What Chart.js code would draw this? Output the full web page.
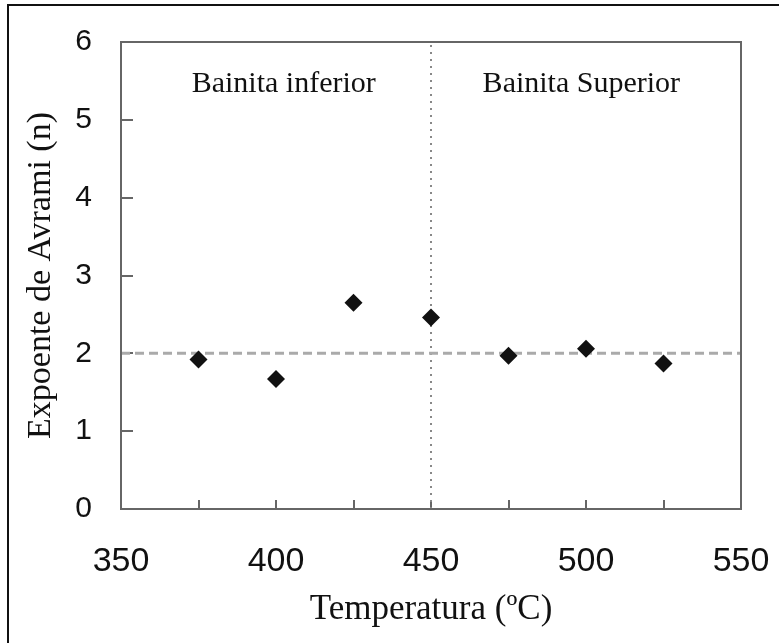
<!DOCTYPE html>
<html>
<head>
<meta charset="utf-8">
<script src="https://cdn.jsdelivr.net/npm/chart.js@4"></script>
<style>
  html, body { margin: 0; padding: 0; background: #fff; }
  #wrap { width: 779px; height: 643px; position: relative; }
</style>
</head>
<body>
<div id="wrap"><canvas id="myChart" width="779" height="643"></canvas></div>
<script>
// temperatures (ºC) and Avrami exponent
const temperatures = [375, 400, 425, 450, 475, 500, 525];
const avramiN = [1.92, 1.67, 2.65, 2.46, 1.97, 2.06, 1.87];

// reference lines
const refN = 2;          // horizontal dashed line
const boundaryT = 450;   // lower / upper bainite boundary
const xRange = [350, 550];
const yRange = [0, 6];
const regionNames = ["Bainita inferior", "Bainita Superior"];

const points = temperatures.map((t, i) => ({ x: t, y: avramiN[i] }));

// frame of the plot box + outer picture border + region names
const framePlugin = {
  id: "frame",
  beforeDraw(chart) {
    const ctx = chart.ctx;
    ctx.save();
    ctx.fillStyle = "#fff";
    ctx.fillRect(0, 0, chart.width, chart.height);
    ctx.strokeStyle = "#111";
    ctx.lineWidth = 2;
    ctx.beginPath();
    ctx.moveTo(8, chart.height);
    ctx.lineTo(8, 5);
    ctx.lineTo(chart.width, 5);
    ctx.stroke();
    ctx.restore();
  },
  afterDraw(chart) {
    const ctx = chart.ctx;
    const a = chart.chartArea;
    const xs = chart.scales.x, ys = chart.scales.y;
    ctx.save();
    ctx.strokeStyle = "#666";
    ctx.lineWidth = 2;
    ctx.strokeRect(a.left, a.top, a.right - a.left, a.bottom - a.top);
    ctx.fillStyle = "#111";
    ctx.font = "30px 'Liberation Serif', 'Times New Roman', serif";
    ctx.textAlign = "center";
    ctx.textBaseline = "middle";
    const labelY = ys.getPixelForValue(5.46);
    ctx.fillText(regionNames[0], xs.getPixelForValue(402.5), labelY);
    ctx.fillText(regionNames[1], xs.getPixelForValue(498.5), labelY);
    ctx.restore();
  }
};

// fixed axis sizes, no extra label overhang padding
function noPad(scale) {
  scale.paddingTop = 0;
  scale.paddingBottom = 0;
  scale.paddingLeft = 0;
  scale.paddingRight = 0;
}

new Chart(document.getElementById("myChart"), {
  type: "scatter",
  data: {
    datasets: [
      {
        label: "n",
        data: points,
        pointStyle: "rectRot",
        pointRadius: 9,
        pointHoverRadius: 9,
        backgroundColor: "#111",
        borderColor: "#111",
        borderWidth: 0,
        order: 0
      },
      {
        label: "n = 2",
        data: [{ x: xRange[0], y: refN }, { x: xRange[1], y: refN }],
        showLine: true,
        pointRadius: 0,
        borderColor: "#aaa",
        borderWidth: 3,
        borderDash: [9, 5],
        order: 1
      },
      {
        label: "boundary",
        data: [{ x: boundaryT, y: yRange[0] }, { x: boundaryT, y: yRange[1] }],
        showLine: true,
        pointRadius: 0,
        borderColor: "#888",
        borderWidth: 2,
        borderDash: [2, 5],
        order: 1
      }
    ]
  },
  options: {
    responsive: false,
    animation: false,
    layout: { padding: { left: 0, top: 42, right: 38, bottom: 0 } },
    plugins: { legend: { display: false }, tooltip: { enabled: false } },
    scales: {
      x: {
        type: "linear",
        min: xRange[0],
        max: xRange[1],
        afterFit(scale) { scale.height = 134; noPad(scale); },
        border: { display: false },
        grid: { drawOnChartArea: false, drawTicks: true, tickLength: -9, color: "#666", lineWidth: 2 },
        ticks: {
          stepSize: 25,
          padding: 41,
          color: "#111",
          font: { family: "'Liberation Sans', Arial, sans-serif", size: 34 },
          callback: (v) => (v % 50 === 0 ? String(v) : "")
        },
        title: {
          display: true,
          text: "Temperatura (ºC)",
          color: "#111",
          font: { family: "'Liberation Serif', 'Times New Roman', serif", size: 35 },
          padding: { top: 0, bottom: 12 }
        }
      },
      y: {
        min: yRange[0],
        max: yRange[1],
        afterFit(scale) { scale.width = 121; noPad(scale); },
        border: { display: false },
        grid: { drawOnChartArea: false, drawTicks: true, tickLength: -12, color: "#666", lineWidth: 2 },
        ticks: {
          stepSize: 1,
          padding: 41,
          color: "#111",
          font: { family: "'Liberation Sans', Arial, sans-serif", size: 30 }
        },
        title: {
          display: true,
          text: "Expoente de Avrami (n)",
          color: "#111",
          font: { family: "'Liberation Serif', 'Times New Roman', serif", size: 34 },
          padding: { top: 21, bottom: 0 }
        }
      }
    }
  },
  plugins: [framePlugin]
});
</script>
</body>
</html>
